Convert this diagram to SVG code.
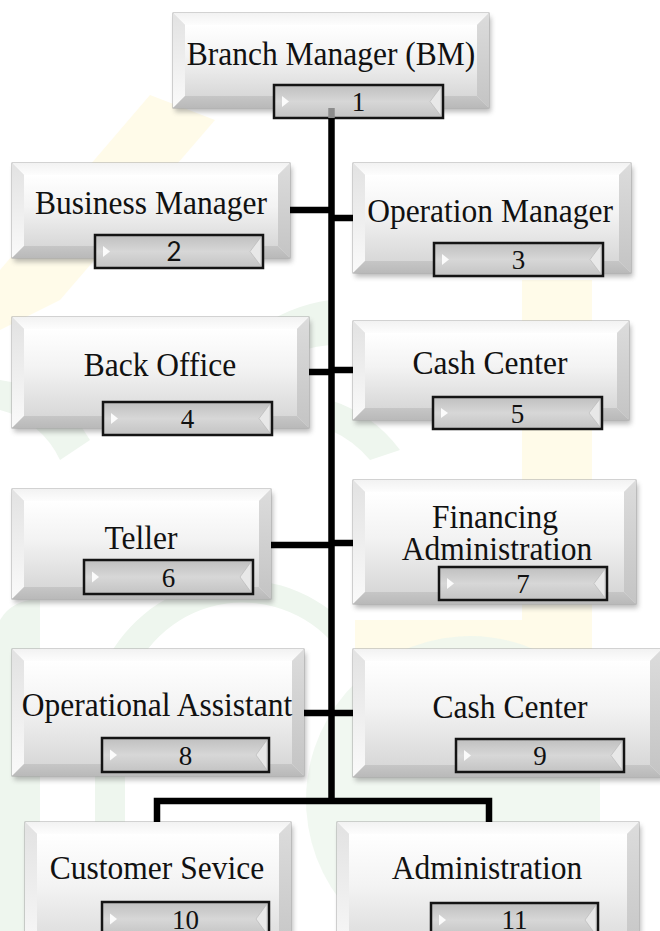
<svg xmlns="http://www.w3.org/2000/svg" width="660" height="931" viewBox="0 0 660 931">
  <style>
    .lbl { font-family: "Liberation Serif", "Times New Roman", serif; font-size: 31.5px; fill: #111; text-anchor: middle; }
    .num { font-family: "Liberation Serif", "Times New Roman", serif; font-size: 27px; fill: #111; text-anchor: middle; }
    .num-sans { font-family: Lato, "Liberation Sans", sans-serif; font-size: 26px; fill: #111; text-anchor: middle; }
    .sh { fill: #6a6a6a; opacity: 0.45; filter: url(#soft); }
    .ob { fill: #e8e8e8; stroke: #a8a8a8; stroke-width: 1; }
    .bt { fill: url(#gTop); }
    .bl { fill: url(#gLeft); }
    .br { fill: url(#gRight); }
    .bb { fill: url(#gBot); }
    .fc { fill: url(#gFace); }
    .bd { fill: url(#gBadge); stroke: #141414; stroke-width: 2.5; }
    .bdl { fill: #fbfbfb; }
    .bdr { fill: #e8e8e8; stroke: #b5b5b5; stroke-width: 0.6; }
    .wm-g { fill: #eef6ee; }
    .wm-y { fill: #fffbe9; }
    .wire { fill: none; stroke: #000; stroke-width: 6.5; stroke-linejoin: miter; }
  </style>
  <defs>
    <filter id="soft" x="-10%" y="-20%" width="120%" height="140%">
      <feGaussianBlur stdDeviation="2.5"/>
    </filter>
    <linearGradient id="gFace" x1="0" y1="0" x2="0" y2="1">
      <stop offset="0" stop-color="#ffffff"/>
      <stop offset="0.45" stop-color="#f3f3f3"/>
      <stop offset="1" stop-color="#d8d8d8"/>
    </linearGradient>
    <linearGradient id="gTop" x1="0" y1="0" x2="0" y2="1">
      <stop offset="0" stop-color="#f2f2f2"/>
      <stop offset="1" stop-color="#fdfdfd"/>
    </linearGradient>
    <linearGradient id="gLeft" x1="0" y1="0" x2="0" y2="1">
      <stop offset="0" stop-color="#e2e2e2"/>
      <stop offset="1" stop-color="#fafafa"/>
    </linearGradient>
    <linearGradient id="gRight" x1="0" y1="0" x2="0" y2="1">
      <stop offset="0" stop-color="#dcdcdc"/>
      <stop offset="1" stop-color="#c4c4c4"/>
    </linearGradient>
    <linearGradient id="gBot" x1="0" y1="0" x2="0" y2="1">
      <stop offset="0" stop-color="#c6c6c6"/>
      <stop offset="1" stop-color="#b9b9b9"/>
    </linearGradient>
    <linearGradient id="gBadge" x1="0" y1="0" x2="0" y2="1">
      <stop offset="0" stop-color="#bfbfbf"/>
      <stop offset="0.5" stop-color="#d7d7d7"/>
      <stop offset="1" stop-color="#c3c3c3"/>
    </linearGradient>
  </defs>

  <rect width="660" height="931" fill="#ffffff"/>

  <!-- faint background emblem -->
  <g id="emblem">
    <path class="wm-y" d="M150,95 L215,120 L60,300 L0,330 L0,270 Z"/>
    <rect class="wm-y" x="522" y="280" width="70" height="370"/>
    <rect class="wm-y" x="355" y="620" width="237" height="30"/>
    <path class="wm-g" d="M0,931 V620 A40,40 0 0 1 40,600 V931 Z"/>
    <path class="wm-g" d="M95,931 V690 A150,150 0 0 1 330,610 L330,640 A120,120 0 0 0 125,700 V931 Z"/>
    <path class="wm-g" d="M340,931 V900 A160,160 0 0 1 600,700 L600,931 Z" opacity="0.8"/>
    <path class="wm-g" d="M250,335 A160,160 0 0 1 330,300 V345 A120,120 0 0 0 280,360 Z"/>
    <path class="wm-g" d="M330,400 A140,140 0 0 1 400,450 L370,460 A110,110 0 0 0 330,430 Z"/>
    <path class="wm-g" d="M0,380 A120,120 0 0 1 90,440 L60,460 A90,90 0 0 0 0,410 Z"/>
  </g>

  <!-- node 1 -->
  <g id="n1">
    <rect class="sh" x="175" y="17" width="316" height="95"/>
    <rect class="ob" x="173" y="13" width="316" height="95"/>
    <polygon class="bt" points="173,13 489,13 477,25 185,25"/>
    <polygon class="bl" points="173,13 185,25 185,96 173,108"/>
    <polygon class="br" points="489,13 489,108 477,96 477,25"/>
    <polygon class="bb" points="173,108 185,96 477,96 489,108"/>
    <rect class="fc" x="185" y="25" width="292" height="71"/>
    <text class="lbl" transform="translate(331,65) scale(1,1.1)">Branch Manager (BM)</text>
    <rect class="bd" x="274" y="85" width="169" height="33"/>
    <polygon class="bdl" points="282,96 289,101.5 282,107"/>
    <polygon class="bdr" points="441,87 430,101.5 441,116"/>
    <text class="num" x="358.5" y="111">1</text>
  </g>

  <!-- node 2 -->
  <g id="n2">
    <rect class="sh" x="14" y="167" width="278" height="95"/>
    <rect class="ob" x="12" y="163" width="278" height="95"/>
    <polygon class="bt" points="12,163 290,163 278,175 24,175"/>
    <polygon class="bl" points="12,163 24,175 24,246 12,258"/>
    <polygon class="br" points="290,163 290,258 278,246 278,175"/>
    <polygon class="bb" points="12,258 24,246 278,246 290,258"/>
    <rect class="fc" x="24" y="175" width="254" height="71"/>
    <text class="lbl" transform="translate(151,214) scale(1,1.1)">Business Manager</text>
    <rect class="bd" x="95" y="235" width="168" height="33"/>
    <polygon class="bdl" points="103,246 110,251.5 103,257"/>
    <polygon class="bdr" points="261,237 250,251.5 261,266"/>
    <text class="num-sans" x="174" y="261">2</text>
  </g>

  <!-- node 3 -->
  <g id="n3">
    <rect class="sh" x="355" y="167" width="278" height="110"/>
    <rect class="ob" x="353" y="163" width="278" height="110"/>
    <polygon class="bt" points="353,163 631,163 619,175 365,175"/>
    <polygon class="bl" points="353,163 365,175 365,261 353,273"/>
    <polygon class="br" points="631,163 631,273 619,261 619,175"/>
    <polygon class="bb" points="353,273 365,261 619,261 631,273"/>
    <rect class="fc" x="365" y="175" width="254" height="86"/>
    <text class="lbl" transform="translate(490,222) scale(1,1.1)">Operation Manager</text>
    <rect class="bd" x="434" y="243" width="169" height="33"/>
    <polygon class="bdl" points="442,254 449,259.5 442,265"/>
    <polygon class="bdr" points="601,245 590,259.5 601,274"/>
    <text class="num" x="518.5" y="269">3</text>
  </g>

  <!-- node 4 -->
  <g id="n4">
    <rect class="sh" x="14" y="321" width="297" height="111"/>
    <rect class="ob" x="12" y="317" width="297" height="111"/>
    <polygon class="bt" points="12,317 309,317 297,329 24,329"/>
    <polygon class="bl" points="12,317 24,329 24,416 12,428"/>
    <polygon class="br" points="309,317 309,428 297,416 297,329"/>
    <polygon class="bb" points="12,428 24,416 297,416 309,428"/>
    <rect class="fc" x="24" y="329" width="273" height="87"/>
    <text class="lbl" transform="translate(160,376) scale(1,1.1)">Back Office</text>
    <rect class="bd" x="103" y="402" width="169" height="33"/>
    <polygon class="bdl" points="111,413 118,418.5 111,424"/>
    <polygon class="bdr" points="270,404 259,418.5 270,433"/>
    <text class="num" x="187.5" y="428">4</text>
  </g>

  <!-- node 5 -->
  <g id="n5">
    <rect class="sh" x="355" y="325" width="276" height="99"/>
    <rect class="ob" x="353" y="321" width="276" height="99"/>
    <polygon class="bt" points="353,321 629,321 617,333 365,333"/>
    <polygon class="bl" points="353,321 365,333 365,408 353,420"/>
    <polygon class="br" points="629,321 629,420 617,408 617,333"/>
    <polygon class="bb" points="353,420 365,408 617,408 629,420"/>
    <rect class="fc" x="365" y="333" width="252" height="75"/>
    <text class="lbl" transform="translate(490,374) scale(1,1.1)">Cash Center</text>
    <rect class="bd" x="433" y="397" width="169" height="32"/>
    <polygon class="bdl" points="441,408 448,413 441,418"/>
    <polygon class="bdr" points="600,399 589,413 600,427"/>
    <text class="num" x="517.5" y="422.5">5</text>
  </g>

  <!-- node 6 -->
  <g id="n6">
    <rect class="sh" x="14" y="493" width="259" height="110"/>
    <rect class="ob" x="12" y="489" width="259" height="110"/>
    <polygon class="bt" points="12,489 271,489 259,501 24,501"/>
    <polygon class="bl" points="12,489 24,501 24,587 12,599"/>
    <polygon class="br" points="271,489 271,599 259,587 259,501"/>
    <polygon class="bb" points="12,599 24,587 259,587 271,599"/>
    <rect class="fc" x="24" y="501" width="235" height="86"/>
    <text class="lbl" transform="translate(141,549) scale(1,1.1)">Teller</text>
    <rect class="bd" x="84" y="560" width="169" height="34"/>
    <polygon class="bdl" points="92,571.5 99,577 92,582.5"/>
    <polygon class="bdr" points="251,562 240,577 251,592"/>
    <text class="num" x="168.5" y="586.5">6</text>
  </g>

  <!-- node 7 -->
  <g id="n7">
    <rect class="sh" x="355" y="484" width="283" height="124"/>
    <rect class="ob" x="353" y="480" width="283" height="124"/>
    <polygon class="bt" points="353,480 636,480 624,492 365,492"/>
    <polygon class="bl" points="353,480 365,492 365,592 353,604"/>
    <polygon class="br" points="636,480 636,604 624,592 624,492"/>
    <polygon class="bb" points="353,604 365,592 624,592 636,604"/>
    <rect class="fc" x="365" y="492" width="259" height="100"/>
    <text class="lbl" transform="translate(495,528) scale(1,1.1)">Financing</text>
    <text class="lbl" transform="translate(497,560) scale(1,1.1)">Administration</text>
    <rect class="bd" x="439" y="567" width="168" height="33"/>
    <polygon class="bdl" points="447,578 454,583.5 447,589"/>
    <polygon class="bdr" points="605,569 594,583.5 605,598"/>
    <text class="num" x="523" y="593">7</text>
  </g>

  <!-- node 8 -->
  <g id="n8">
    <rect class="sh" x="14" y="653" width="292" height="127"/>
    <rect class="ob" x="12" y="649" width="292" height="127"/>
    <polygon class="bt" points="12,649 304,649 292,661 24,661"/>
    <polygon class="bl" points="12,649 24,661 24,764 12,776"/>
    <polygon class="br" points="304,649 304,776 292,764 292,661"/>
    <polygon class="bb" points="12,776 24,764 292,764 304,776"/>
    <rect class="fc" x="24" y="661" width="268" height="103"/>
    <text class="lbl" transform="translate(157,716) scale(1,1.1)">Operational Assistant</text>
    <rect class="bd" x="102" y="738" width="167" height="34"/>
    <polygon class="bdl" points="110,749.5 117,755 110,760.5"/>
    <polygon class="bdr" points="267,740 256,755 267,770"/>
    <text class="num" x="185.5" y="764.5">8</text>
  </g>

  <!-- node 9 -->
  <g id="n9">
    <rect class="sh" x="355" y="653" width="309" height="128"/>
    <rect class="ob" x="353" y="649" width="309" height="128"/>
    <polygon class="bt" points="353,649 662,649 650,661 365,661"/>
    <polygon class="bl" points="353,649 365,661 365,765 353,777"/>
    <polygon class="br" points="662,649 662,777 650,765 650,661"/>
    <polygon class="bb" points="353,777 365,765 650,765 662,777"/>
    <rect class="fc" x="365" y="661" width="285" height="104"/>
    <text class="lbl" transform="translate(510,718) scale(1,1.1)">Cash Center</text>
    <rect class="bd" x="456" y="739" width="168" height="33"/>
    <polygon class="bdl" points="464,750 471,755.5 464,761"/>
    <polygon class="bdr" points="622,741 611,755.5 622,770"/>
    <text class="num" x="540" y="765">9</text>
  </g>

  <!-- node 10 -->
  <g id="n10">
    <rect class="sh" x="27" y="826" width="266" height="140"/>
    <rect class="ob" x="25" y="822" width="266" height="140"/>
    <polygon class="bt" points="25,822 291,822 279,834 37,834"/>
    <polygon class="bl" points="25,822 37,834 37,950 25,962"/>
    <polygon class="br" points="291,822 291,962 279,950 279,834"/>
    <rect class="fc" x="37" y="834" width="242" height="116"/>
    <text class="lbl" transform="translate(157,879) scale(1,1.1)">Customer Sevice</text>
    <rect class="bd" x="102" y="902" width="167" height="34"/>
    <polygon class="bdl" points="110,913.5 117,919 110,924.5"/>
    <polygon class="bdr" points="267,904 256,919 267,934"/>
    <text class="num" x="185.5" y="928.5">10</text>
  </g>

  <!-- node 11 -->
  <g id="n11">
    <rect class="sh" x="339" y="826" width="302" height="140"/>
    <rect class="ob" x="337" y="822" width="302" height="140"/>
    <polygon class="bt" points="337,822 639,822 627,834 349,834"/>
    <polygon class="bl" points="337,822 349,834 349,950 337,962"/>
    <polygon class="br" points="639,822 639,962 627,950 627,834"/>
    <rect class="fc" x="349" y="834" width="278" height="116"/>
    <text class="lbl" transform="translate(487,879) scale(1,1.1)">Administration</text>
    <rect class="bd" x="431" y="903" width="167" height="34"/>
    <polygon class="bdl" points="439,914.5 446,920 439,925.5"/>
    <polygon class="bdr" points="596,905 585,920 596,935"/>
    <text class="num" x="514.5" y="929">11</text>
  </g>

  <!-- connectors -->
  <g id="connectors">
    <line x1="331.5" y1="108" x2="331.5" y2="118" stroke="#8c8c8c" stroke-width="6.5"/>
    <line class="wire" x1="331.5" y1="118" x2="331.5" y2="804"/>
    <line class="wire" x1="290" y1="210" x2="331.5" y2="210"/>
    <line class="wire" x1="331.5" y1="218" x2="353" y2="218"/>
    <line class="wire" x1="309" y1="372" x2="331.5" y2="372"/>
    <line class="wire" x1="331.5" y1="370" x2="353" y2="370"/>
    <line class="wire" x1="271" y1="545" x2="331.5" y2="545"/>
    <line class="wire" x1="331.5" y1="543" x2="353" y2="543"/>
    <line class="wire" x1="304" y1="713" x2="331.5" y2="713"/>
    <line class="wire" x1="331.5" y1="713" x2="353" y2="713"/>
    <path class="wire" d="M157,822 V801 H489 V822"/>
  </g>
</svg>
